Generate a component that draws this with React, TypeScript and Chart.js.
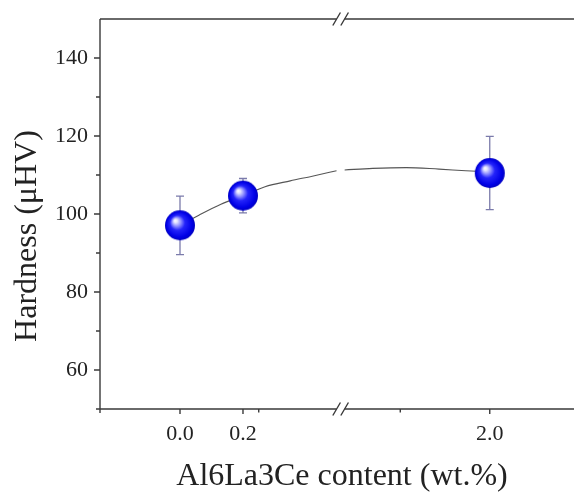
// Hardness vs Al6La3Ce content: sphere markers with error bars, a thin
// fitted curve, and a broken x axis (0.5 .. 1.0 is cut out).

import { useEffect, useRef } from "react";
import { Chart, registerables } from "chart.js";

Chart.register(...registerables);

const contents = [0.0, 0.2, 2.0];
const hardness = [97.1, 104.7, 110.5];
const hardnessErr = [7.5, 4.4, 9.4];

// fitted curve (null = gap at the axis break)
const curveX = [0.0, 0.06, 0.13, 0.2, 0.27, 0.35, 0.42, 0.497, 0.75, 1.027, 1.215, 1.44, 1.66, 1.84, 2.0];
const curveY = [97.1, 99.7, 102.5, 104.7, 107.0, 108.5, 109.7, 111.1, null, 111.3, 111.7, 111.9, 111.5, 111.1, 110.8];

const xMajorTicks = [0.0, 0.2, 2.0];
const xTickLabels = ["0.0", "0.2", "2.0"];
const xMinorTicks = [0.25, 1.4];
const yMajorTicks = [60, 80, 100, 120, 140];
const yMinorTicks = [50, 70, 90, 110, 130];

const X_TITLE = "Al6La3Ce content (wt.%)";
const Y_TITLE = "Hardness (\u03bcHV)";

// broken axis: real x -> axis units
const BREAK_LO = 0.51;
const BREAK_HI = 1.0;
const SEG2_SCALE = 0.4735;
const toAxis = (x: number) => (x <= BREAK_LO ? x : BREAK_LO + (x - BREAK_HI) * SEG2_SCALE);

const FONT = '"Liberation Serif", "Times New Roman", serif';
const INK = "#222";
const AXIS = "#3a3a3a";

function makeSphere(r: number) {
  const c = document.createElement("canvas");
  const s = r * 2 + 2;
  c.width = s;
  c.height = s;
  const g = c.getContext("2d")!;
  const cx = s / 2;
  const cy = s / 2;
  const grad = g.createRadialGradient(cx - r * 0.33, cy - r * 0.33, 0, cx, cy, r);
  grad.addColorStop(0, "#ffffff");
  grad.addColorStop(0.12, "#e4e4ff");
  grad.addColorStop(0.3, "#8c8cff");
  grad.addColorStop(0.5, "#2424fa");
  grad.addColorStop(0.85, "#0000e6");
  grad.addColorStop(1, "#0000c0");
  g.fillStyle = grad;
  g.beginPath();
  g.arc(cx, cy, r, 0, Math.PI * 2);
  g.fill();
  return c;
}

const errorBars = {
  id: "errorBars",
  beforeDatasetsDraw(chart: Chart) {
    const { ctx, scales } = chart;
    ctx.save();
    ctx.strokeStyle = "#7b7bab";
    ctx.lineWidth = 1.3;
    contents.forEach((c, i) => {
      const x = scales.x.getPixelForValue(toAxis(c));
      const y1 = scales.y.getPixelForValue(hardness[i] + hardnessErr[i]);
      const y2 = scales.y.getPixelForValue(hardness[i] - hardnessErr[i]);
      ctx.beginPath();
      ctx.moveTo(x, y1);
      ctx.lineTo(x, y2);
      ctx.moveTo(x - 4, y1);
      ctx.lineTo(x + 4, y1);
      ctx.moveTo(x - 4, y2);
      ctx.lineTo(x + 4, y2);
      ctx.stroke();
    });
    ctx.restore();
  },
};

const frame = {
  id: "frame",
  afterDraw(chart: Chart) {
    const { ctx, chartArea: a, scales } = chart;
    const sx = scales.x;
    const sy = scales.y;
    ctx.save();
    ctx.strokeStyle = AXIS;
    ctx.lineWidth = 1.4;
    ctx.beginPath();
    ctx.moveTo(a.left, a.top);
    ctx.lineTo(a.left, a.bottom);
    ctx.moveTo(a.left, a.top);
    ctx.lineTo(a.right, a.top);
    ctx.moveTo(a.left, a.bottom);
    ctx.lineTo(a.right, a.bottom);
    // y ticks (outward, left)
    yMajorTicks.forEach((v) => {
      const y = sy.getPixelForValue(v);
      ctx.moveTo(a.left - 6, y);
      ctx.lineTo(a.left, y);
    });
    yMinorTicks.forEach((v) => {
      const y = sy.getPixelForValue(v);
      ctx.moveTo(a.left - 4, y);
      ctx.lineTo(a.left, y);
    });
    // x ticks (outward, down)
    xMajorTicks.forEach((v) => {
      const x = sx.getPixelForValue(toAxis(v));
      ctx.moveTo(x, a.bottom);
      ctx.lineTo(x, a.bottom + 5);
    });
    xMinorTicks.forEach((v) => {
      const x = sx.getPixelForValue(toAxis(v));
      ctx.moveTo(x, a.bottom);
      ctx.lineTo(x, a.bottom + 3.5);
    });
    ctx.moveTo(a.left, a.bottom);
    ctx.lineTo(a.left, a.bottom + 4);
    ctx.stroke();

    // break marks on top and bottom axes
    const bx = sx.getPixelForValue(BREAK_LO);
    [a.top, a.bottom].forEach((y) => {
      ctx.fillStyle = "#fff";
      ctx.fillRect(bx - 4, y - 2, 8, 4);
      ctx.beginPath();
      [-4, 4].forEach((d) => {
        ctx.moveTo(bx + d - 3.8, y + 6.5);
        ctx.lineTo(bx + d + 3.8, y - 6.5);
      });
      ctx.stroke();
    });

    // axis titles
    ctx.fillStyle = INK;
    ctx.font = `32px ${FONT}`;
    ctx.textAlign = "center";
    ctx.textBaseline = "alphabetic";
    ctx.fillText(X_TITLE, 342, 485);
    ctx.translate(36, 236);
    ctx.rotate(-Math.PI / 2);
    ctx.fillText(Y_TITLE, 0, 0);
    ctx.restore();
  },
};

export default function App() {
  const canvasRef = useRef<HTMLCanvasElement>(null);

  useEffect(() => {
    const sphere = makeSphere(15);
    const chart = new Chart(canvasRef.current!, {
      type: "scatter",
      data: {
        datasets: [
          {
            data: contents.map((c, i) => ({ x: toAxis(c), y: hardness[i] })),
            pointStyle: sphere,
            pointRadius: 15,
            showLine: false,
            order: 0,
          },
          {
            data: curveX.map((c, i) => ({ x: toAxis(c), y: curveY[i] })),
            showLine: true,
            spanGaps: false,
            borderColor: "#555",
            borderWidth: 1.1,
            pointRadius: 0,
            cubicInterpolationMode: "monotone",
            order: 1,
          },
        ],
      },
      options: {
        responsive: false,
        animation: false,
        events: [],
        layout: { autoPadding: false, padding: { top: 19, left: 0, right: 0, bottom: 0 } },
        plugins: { legend: { display: false }, tooltip: { enabled: false } },
        scales: {
          x: {
            type: "linear",
            min: -0.254,
            max: 1.251,
            grid: { display: false, drawTicks: true, tickLength: 5 },
            border: { display: false },
            afterBuildTicks: (s: any) => {
              s.ticks = xMajorTicks.map((v) => ({ value: toAxis(v) }));
            },
            afterFit: (s: any) => {
              s.height = 83;
              s.paddingLeft = 0;
              s.paddingRight = 0;
            },
            ticks: {
              autoSkip: false,
              maxRotation: 0,
              padding: 7,
              color: INK,
              font: { family: FONT, size: 22 },
              callback: (_v: any, i: number) => xTickLabels[i],
            },
          },
          y: {
            min: 50,
            max: 150,
            grid: { display: false, drawTicks: true, tickLength: 6 },
            border: { display: false },
            afterBuildTicks: (s: any) => {
              s.ticks = yMajorTicks.map((v) => ({ value: v }));
            },
            afterFit: (s: any) => {
              s.width = 100;
              s.paddingTop = 0;
              s.paddingBottom = 0;
            },
            ticks: {
              padding: 6,
              color: INK,
              font: { family: FONT, size: 22 },
              callback: (v: any) => String(v),
            },
          },
        },
      },
      plugins: [errorBars, frame],
    });
    return () => chart.destroy();
  }, []);

  return (
    <div style={{ position: "absolute", left: 0, top: 0, width: 574, height: 492, background: "#fff" }}>
      <canvas ref={canvasRef} width={574} height={492} />
    </div>
  );
}
